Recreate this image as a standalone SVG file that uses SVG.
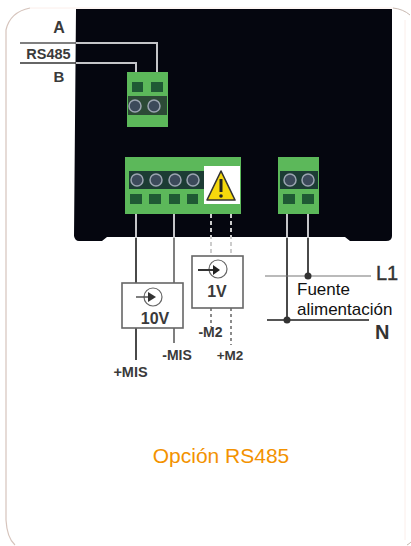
<svg xmlns="http://www.w3.org/2000/svg" width="411" height="546" viewBox="0 0 411 546">
<style>
.lbl{font-family:"Liberation Sans",Arial,sans-serif;font-weight:bold;fill:#3a3a3a}
.w{fill:none;stroke:#4a4a4a;stroke-width:2}
.lw{fill:none;stroke:#c4c4c8;stroke-width:2}
.g{fill:#5cb85a}
.sq{fill:#1f5a34}
.sc{fill:#3c4a5a;stroke:#9aa4b0;stroke-width:1.5}
.box{fill:#fff;stroke:#666;stroke-width:1.6}
.plain{font-family:"Liberation Sans",Arial,sans-serif}
</style>
<rect width="411" height="546" fill="#fff"/>
<path id="frame" d="M30 8Q10 12 6 30V520Q7 538 15 545" fill="none" stroke="#d6c4bc" stroke-width="1.200"/>
<path d="M393 8Q403 9 410 15M407 545Q409 544 411 542" fill="none" stroke="#c8b8b0" stroke-width="1"/>
<path d="M30 8H393M405 20V540" fill="none" stroke="#fbeeea" stroke-width="1"/>
<path id="panel" d="M76 9H392V236Q392 241 386 241H350L345 237H107L102 241H79Q75 241 74 236Z" fill="#05060f"/>

<g id="connector-rs485">
<rect class="g" x="127" y="72" width="41" height="55"/>
<rect class="sq" x="132" y="82" width="11" height="10"/>
<rect class="sq" x="151" y="82" width="12" height="10"/>
<rect x="128" y="96" width="39" height="19" fill="#2c4a36"/>
<circle class="sc" cx="135" cy="106" r="6"/>
<circle class="sc" cx="154" cy="106" r="6"/>
</g>

<g id="connector-inputs">
<rect class="g" x="125" y="157" width="116" height="57"/>
<rect x="129" y="171" width="76" height="18" fill="#1c3c34"/>
<circle class="sc" cx="137" cy="180" r="6"/>
<circle class="sc" cx="156" cy="180" r="6"/>
<circle class="sc" cx="175" cy="180" r="6"/>
<circle class="sc" cx="193" cy="180" r="6"/>
<rect class="sq" x="130" y="194" width="12" height="10"/>
<rect class="sq" x="149" y="194" width="12" height="10"/>
<rect class="sq" x="169" y="194" width="11" height="10"/>
<rect class="sq" x="187" y="194" width="11" height="10"/>
<rect x="204" y="166" width="36" height="38" fill="#fff"/>
</g>

<g id="warning">
<path d="M221 171L235 200H207Z" fill="#f5d80c" stroke="#333" stroke-width="1.600" stroke-linejoin="round"/>
<path d="M221 179V192" stroke="#222" stroke-width="3"/>
<circle cx="221" cy="196" r="1.800" fill="#222"/>
</g>

<g id="connector-power">
<rect class="g" x="278" y="157" width="41" height="57"/>
<rect x="280" y="171" width="38" height="18" fill="#1c3c34"/>
<circle class="sc" cx="290" cy="180" r="6"/>
<circle class="sc" cx="308" cy="180" r="6"/>
<rect class="sq" x="283" y="194" width="12" height="10"/>
<rect class="sq" x="302" y="194" width="12" height="10"/>
</g>

<g id="connectors">
<path class="lw" d="M76 43H157V72M76 63H136V72"/>
<path d="M20 43H76" fill="none" stroke="#555" stroke-width="1.500"/>
<path d="M20 63H76" fill="none" stroke="#333" stroke-width="1.500"/>
<path class="lw" d="M136 214V238M174 214V238M287 214V238M308 214V238"/>
<path class="w" d="M136 238V283M136 328V360M287 238V320M308 238V276"/>
<path d="M174 238V283M174 328V343" fill="none" stroke="#555" stroke-width="1.500"/>
<path d="M211 214V256M231 214V256" fill="none" stroke="#ccc" stroke-width="2" stroke-dasharray="4 3"/>
<path d="M211 308V327M231 308V345" fill="none" stroke="#666" stroke-width="1.500" stroke-dasharray="3 3"/>
<path d="M265 276H371" fill="none" stroke="#777" stroke-width="1.200"/>
<path d="M267 320H369" fill="none" stroke="#555" stroke-width="2"/>
<circle cx="308" cy="276" r="3.500" fill="#333"/>
<circle cx="287" cy="320" r="3.500" fill="#333"/>
</g>

<g id="source-10v">
<rect class="box" x="122" y="283" width="61" height="45"/>
<circle cx="153" cy="297" r="9" fill="#fff" stroke="#666" stroke-width="1.200"/>
<path d="M136 297H150" stroke="#555" stroke-width="1.500"/>
<path d="M148 292L156 297L148 302Z" fill="#333"/>
<text class="lbl" x="155" y="324" font-size="16" text-anchor="middle">10V</text>
</g>

<g id="source-1v">
<rect class="box" x="192" y="256" width="51" height="52"/>
<circle cx="218" cy="269" r="9" fill="#fff" stroke="#666" stroke-width="1.200"/>
<path d="M198 270H216" stroke="#333" stroke-width="2"/>
<path d="M213 265L220 270L213 275Z" fill="#222"/>
<text class="lbl" x="217" y="297" font-size="16" text-anchor="middle">1V</text>
</g>

<g id="labels">
<text class="lbl" x="59" y="33" font-size="16" text-anchor="middle">A</text>
<text class="lbl" x="48.500" y="59" font-size="14.500" text-anchor="middle">RS485</text>
<text class="lbl" x="59" y="82" font-size="15" text-anchor="middle">B</text>
<text class="lbl" x="210.500" y="337" font-size="14" text-anchor="middle">-M2</text>
<text class="lbl" x="177" y="360" font-size="14" text-anchor="middle">-MIS</text>
<text class="lbl" x="230" y="360" font-size="13.500" text-anchor="middle">+M2</text>
<text class="lbl" x="130.500" y="377" font-size="14.500" text-anchor="middle">+MIS</text>
<text class="plain" x="376" y="280" font-size="20" fill="#333" stroke="#333" stroke-width=".4">L1</text>
<text class="plain" x="375" y="339" font-size="20" font-weight="bold" fill="#333">N</text>
<text class="plain" x="297" y="295" font-size="17" fill="#111">Fuente</text>
<text class="plain" x="297" y="315" font-size="17" fill="#111">alimentación</text>
<text class="plain" x="221" y="463" font-size="21" fill="#f39200" text-anchor="middle">Opción RS485</text>
</g>
</svg>
